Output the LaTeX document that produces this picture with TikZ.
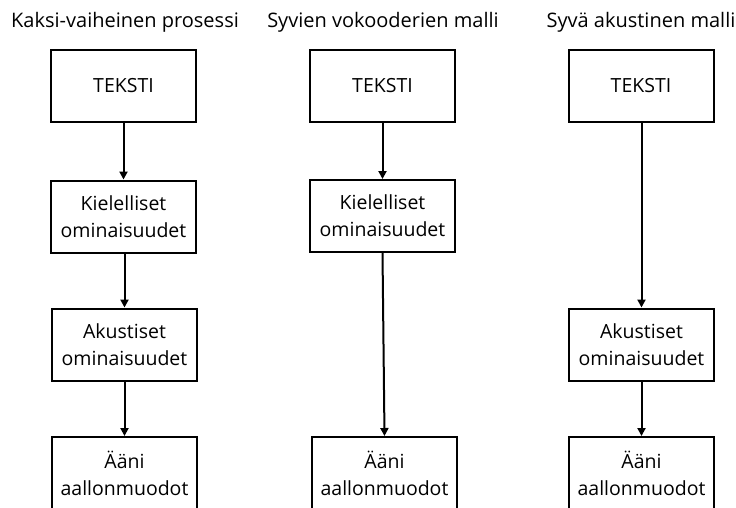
\documentclass[tikz,border=0pt]{standalone}
\usepackage{fontspec}
\setmainfont{Open Sans}
\usetikzlibrary{arrows.meta}
\begin{document}
\begin{tikzpicture}[x=1pt,y=-1pt,
  box/.style={draw,line width=2pt,minimum width=145pt,minimum height=72pt,inner sep=0pt,align=center,font=\fontsize{19.5}{27}\selectfont},
  ttl/.style={font=\fontsize{20}{24}\selectfont,inner sep=0pt},
  arr/.style={line width=2pt,-{Triangle[length=8pt,width=8pt]}}]
\useasboundingbox (0,0) rectangle (736,507);
\clip (0,0) rectangle (736,507);
% titles
\node[ttl] (t1) at (125,22) {Kaksi-vaiheinen prosessi};
\node[ttl] (t2) at (383,22) {Syvien vokooderien malli};
\node[ttl] (t3) at (641,22) {Syvä akustinen malli};
% column 1
\node[box] (a1) at (123.5,86) {TEKSTI};
\node[box] (b1) at (123.5,216.5) {Kielelliset\\ominaisuudet};
\node[box] (c1) at (124.5,344.5) {Akustiset\\ominaisuudet};
\node[box] (d1) at (124.5,473) {Ääni\\aallonmuodot};
% column 2
\node[box] (a2) at (382.5,86) {TEKSTI};
\node[box] (b2) at (382.5,216) {Kielelliset\\ominaisuudet};
\node[box] (d2) at (384.5,473) {Ääni\\aallonmuodot};
% column 3
\node[box] (a3) at (641,86) {TEKSTI};
\node[box] (c3) at (641.5,344.5) {Akustiset\\ominaisuudet};
\node[box] (d3) at (641.5,473) {Ääni\\aallonmuodot};
% arrows
\draw[arr] (a1) -- (b1);
\draw[arr] (b1.south -| c1) -- (c1);
\draw[arr] (c1) -- (d1);
\draw[arr] (a2) -- (b2);
\draw[arr] (b2.south) -- (d2.north);
\draw[arr] (a3.south -| c3) -- (c3);
\draw[arr] (c3) -- (d3);
\end{tikzpicture}
\end{document}
